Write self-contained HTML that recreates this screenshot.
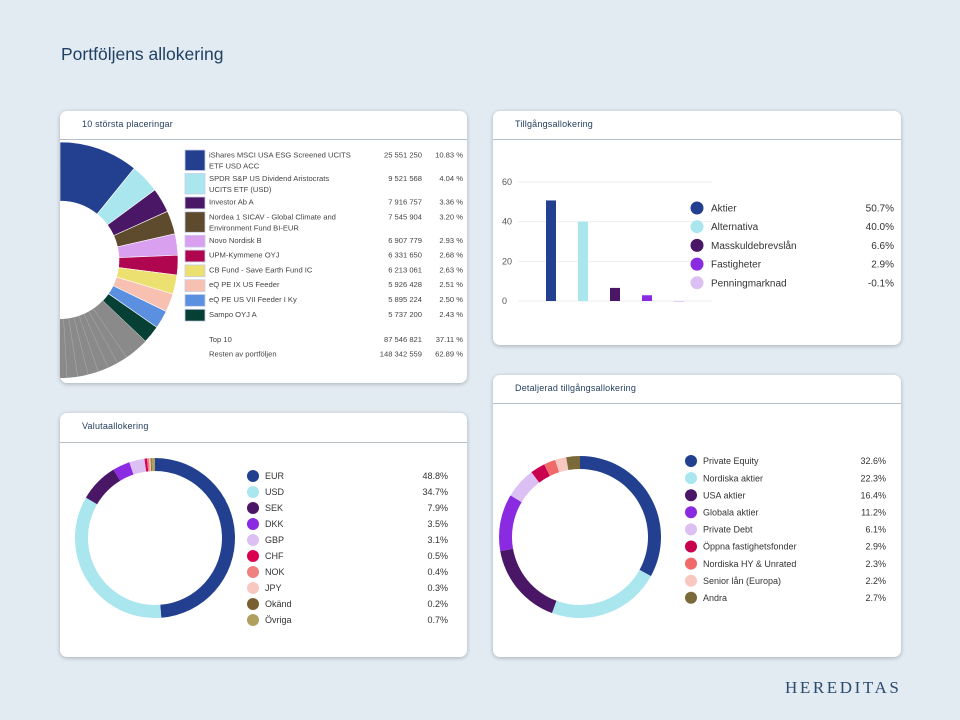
<!DOCTYPE html>
<html><head><meta charset="utf-8">
<style>
body{margin:0;width:960px;height:720px;background:#e2eaf2;position:relative;overflow:hidden;font-family:"Liberation Sans",sans-serif;color:#333;}
.panel{position:absolute;background:#fff;border-radius:7px;box-shadow:0 1px 4px rgba(0,0,0,0.25);overflow:hidden;}
.ptitle{position:absolute;left:22px;top:8px;font-size:9px;color:#1f3b5c;letter-spacing:0.2px;}
.hline{position:absolute;left:0;right:0;height:1px;background:#b8bec6;}
svg{position:absolute;left:0;top:0;}
</style></head>
<body>
<div style="position:absolute;left:61px;top:44px;font-size:17.5px;color:#1f4163;">Portföljens allokering</div>
<div style="position:absolute;left:785px;top:678px;font-family:'Liberation Serif',serif;font-size:17px;letter-spacing:2.6px;color:#2a4a6e;">HEREDITAS</div>

<div class="panel" style="left:60px;top:111px;width:407px;height:272px;">
<div class="ptitle">10 största placeringar</div>
<div class="hline" style="top:28px"></div>
<svg id="top10svg" width="407" height="272"></svg>
</div>

<div class="panel" style="left:493px;top:111px;width:408px;height:234px;">
<div class="ptitle">Tillgångsallokering</div>
<div class="hline" style="top:28px"></div>
<svg id="barsvg" width="408" height="234"></svg>
</div>

<div class="panel" style="left:60px;top:413px;width:407px;height:244px;">
<div class="ptitle">Valutaallokering</div>
<div class="hline" style="top:29px"></div>
<svg id="cursvg" width="407" height="244"></svg>
</div>

<div class="panel" style="left:493px;top:375px;width:408px;height:282px;">
<div class="ptitle">Detaljerad tillgångsallokering</div>
<div class="hline" style="top:28px"></div>
<svg id="detsvg" width="408" height="282"></svg>
</div>

<script>
const NS="http://www.w3.org/2000/svg";
function mk(parent,tag,attrs){const e=document.createElementNS(NS,tag);for(const k in attrs)e.setAttribute(k,attrs[k]);parent.appendChild(e);return e;}
function arc(cx,cy,r0,r1,a0,a1){
 const p=(r,a)=>[cx+r*Math.sin(a),cy-r*Math.cos(a)];
 const large=(a1-a0)>Math.PI?1:0;
 const [x0,y0]=p(r1,a0),[x1,y1]=p(r1,a1),[x2,y2]=p(r0,a1),[x3,y3]=p(r0,a0);
 return `M${x0},${y0}A${r1},${r1} 0 ${large} 1 ${x1},${y1}L${x2},${y2}A${r0},${r0} 0 ${large} 0 ${x3},${y3}Z`;
}

// ---- Top 10 ----
const top10Names=[["iShares MSCI USA ESG Screened UCITS","ETF USD ACC"],["SPDR S&P US Dividend Aristocrats","UCITS ETF (USD)"],["Investor Ab A"],["Nordea 1 SICAV - Global Climate and","Environment Fund BI-EUR"],["Novo Nordisk B"],["UPM-Kymmene OYJ"],["CB Fund - Save Earth Fund IC"],["eQ PE IX US Feeder"],["eQ PE US VII Feeder I Ky"],["Sampo OYJ A"]];
const top10Values=["25 551 250","9 521 568","7 916 757","7 545 904","6 907 779","6 331 650","6 213 061","5 926 428","5 895 224","5 737 200"];
const top10Pct=[10.83,4.04,3.36,3.20,2.93,2.68,2.63,2.51,2.50,2.43];
const top10Colors=["#233f8f","#a9e6ee","#4a1766","#5e4a2c","#d9a0f0","#b0064f","#ece070","#f8c0b0","#5b8fe0","#063f34"];
const restPct=62.89;
const totalLabels=[["Top 10","87 546 821","37.11 %"],["Resten av portföljen","148 342 559","62.89 %"]];
(function(){
 const s=document.getElementById('top10svg');
 const cx=0,cy=149,r0=59,r1=118;let a=0;
 top10Pct.forEach((v,i)=>{const a1=a+v/100*2*Math.PI;
  const p=mk(s,'path',{d:arc(cx,cy,r0,r1,a,a1),fill:top10Colors[i],stroke:'#fff','stroke-width':0.6});
  
  
  a=a1;});
 const a1=a+restPct/100*2*Math.PI;
 const g=mk(s,'path',{d:arc(cx,cy,r0,r1,a,a1),fill:'#8a8a8a'});
 
 
 for(let k=1;k<9;k++){const aa=a+0.12+k*0.09;mk(s,'line',{x1:cx+r0*Math.sin(aa),y1:cy-r0*Math.cos(aa),x2:cx+r1*Math.sin(aa),y2:cy-r1*Math.cos(aa),stroke:'#b0b0b0','stroke-width':0.5});}
 let y=38;
 top10Names.forEach((n,i)=>{const h=n.length==2?23.5:14.8;
  const sw=mk(s,'rect',{x:125,y:y+1,width:20,height:h-3,fill:top10Colors[i],stroke:'#c8cde8','stroke-width':0.8});
  
  
  n.forEach((line,j)=>{const t=mk(s,'text',{x:149,y:y+8.5+j*11,'font-size':7.6,fill:'#444'});t.textContent=line;
   
   });
  const tv=mk(s,'text',{x:362,y:y+8.5,'font-size':7.6,fill:'#444','text-anchor':'end'});tv.textContent=top10Values[i];
  
  
  const tp=mk(s,'text',{x:403,y:y+8.5,'font-size':7.6,fill:'#444','text-anchor':'end'});tp.textContent=top10Pct[i].toFixed(2)+' %';
  
  
  y+=h;});
 totalLabels.forEach((r,i)=>{const yy=231+i*14.5;
  [[149,'start'],[362,'end'],[403,'end']].forEach((c,j)=>{const t=mk(s,'text',{x:c[0],y:yy,'font-size':7.6,fill:'#444','text-anchor':c[1]});t.textContent=r[j];
   
   });});
})();

// ---- Bar chart ----
const barCats=["Aktier","Alternativa","Masskuldebrevslån","Fastigheter","Penningmarknad"];
const barVals=[50.7,40.0,6.6,2.9,-0.1];
const barColors=["#233f8f","#a9e6ee","#4a1766","#8a2be2","#dcc0f4"];
const barTicks=[0,20,40,60];
(function(){
 const s=document.getElementById('barsvg');
 const y=v=>190-v/60*119; const x=i=>58+i*32;
 barTicks.forEach(t=>{mk(s,'line',{x1:25,x2:219,y1:y(t),y2:y(t),stroke:'#eee','stroke-width':1});
  const tx=mk(s,'text',{x:9,y:y(t)+3,'font-size':9,fill:'#555'});tx.textContent=t;
  
  });
 barVals.forEach((v,i)=>{const r=mk(s,'rect',{x:x(i)-5,y:Math.min(y(v),y(0)),width:10,height:Math.max(Math.abs(y(v)-y(0)),0.8),fill:barColors[i]});
  
  
  const ly=97+i*18.7;
  const c=mk(s,'circle',{cx:204,cy:ly,r:6.5,fill:barColors[i]});
  
  
  const t=mk(s,'text',{x:218,y:ly+3.5,'font-size':10,fill:'#333'});t.textContent=barCats[i];
  
  
  const tv=mk(s,'text',{x:401,y:ly+3.5,'font-size':10,fill:'#333','text-anchor':'end'});tv.textContent=v.toFixed(1)+'%';
  
  });
})();

// ---- Donuts ----
const curCats=["EUR","USD","SEK","DKK","GBP","CHF","NOK","JPY","Okänd","Övriga"];
const curVals=[48.8,34.7,7.9,3.5,3.1,0.5,0.4,0.3,0.2,0.7];
const curColors=["#233f8f","#a9e6ee","#4a1766","#8a2be2","#dcc0f4","#d8004f","#f08080","#f8c8c0","#7a6030","#b0a060"];
const detCats=["Private Equity","Nordiska aktier","USA aktier","Globala aktier","Private Debt","Öppna fastighetsfonder","Nordiska HY & Unrated","Senior lån (Europa)","Andra"];
const detVals=[32.6,22.3,16.4,11.2,6.1,2.9,2.3,2.2,2.7];
const detColors=["#233f8f","#a9e6ee","#4a1766","#8a2be2","#dcc0f4","#c8004f","#f06a6a","#f8c8c0","#7a6a3a"];
function donut(id,cats,vals,colors,cx,cy,r1,r0,lx,ly,dy,vx,fs,pre){
 const s=document.getElementById(id);const tot=vals.reduce((a,b)=>a+b,0);let a=0;
 vals.forEach((v,i)=>{const a1=a+v/tot*2*Math.PI;
  const p=mk(s,'path',{d:arc(cx,cy,r0,r1,a,a1),fill:colors[i]});
  
  
  a=a1;
  const yy=ly+i*dy;
  const c=mk(s,'circle',{cx:lx,cy:yy,r:6,fill:colors[i]});
  
  
  const t=mk(s,'text',{x:lx+12,y:yy+3.2,'font-size':fs,fill:'#333'});t.textContent=cats[i];
  
  
  const tv=mk(s,'text',{x:vx,y:yy+3.2,'font-size':fs,fill:'#333','text-anchor':'end'});tv.textContent=v.toFixed(1)+'%';
  
  });
}
donut('cursvg',curCats,curVals,curColors,95,125,80,67,193,63,16,388,9,'currency');
donut('detsvg',detCats,detVals,detColors,87,162,81,68,198,86,17.1,393,9,'detailed');
</script>
</body></html>
